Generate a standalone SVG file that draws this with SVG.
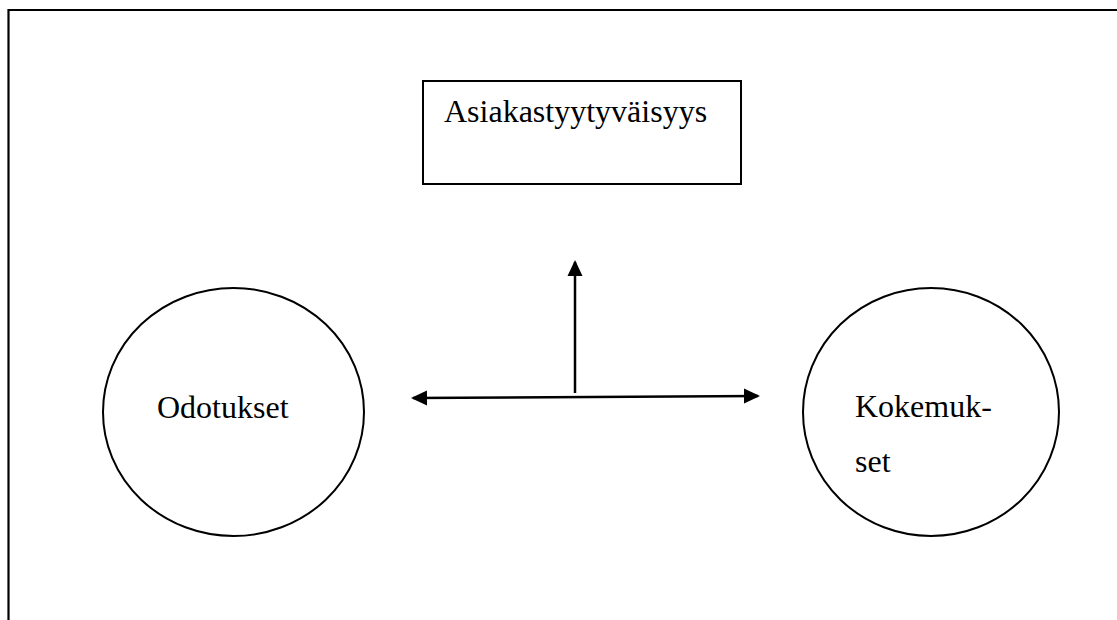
<svg xmlns="http://www.w3.org/2000/svg" width="1117" height="620" viewBox="0 0 1117 620">
<style>
.shape{fill:#fff;stroke:#000;stroke-width:2}
.lbl{font-family:"Liberation Serif","Times New Roman",serif;font-size:32px;fill:#000}
.conn{stroke:#000;stroke-width:2.5;fill:none}
</style>
<defs>
<marker id="ah" viewBox="0 0 16 16" refX="14" refY="8" markerWidth="16" markerHeight="16" markerUnits="userSpaceOnUse" orient="auto-start-reverse">
<path d="M0,0.5 L16,8 L0,15.5 Z" fill="#000"/>
</marker>
</defs>
<rect width="1117" height="620" fill="#fff"/>
<path d="M8.5,620 V10 H1117" fill="none" stroke="#000" stroke-width="2.2"/>
<g id="asiakastyytyvaisyys">
<rect class="shape" x="423" y="81" width="318" height="103"/>
<text class="lbl" x="444" y="122">Asiakastyytyväisyys</text>
</g>
<g id="odotukset">
<ellipse class="shape" cx="233.5" cy="412" rx="130.5" ry="124"/>
<text class="lbl" x="157" y="418">Odotukset</text>
</g>
<g id="kokemukset">
<ellipse class="shape" cx="931" cy="412" rx="128" ry="124"/>
<text class="lbl" x="855" y="417">Kokemuk-</text>
<text class="lbl" x="855" y="472">set</text>
</g>
<g id="connectors">
<line class="conn" x1="413" y1="398" x2="758" y2="396" marker-start="url(#ah)" marker-end="url(#ah)"/>
<line class="conn" x1="575" y1="393" x2="575" y2="262" marker-end="url(#ah)"/>
</g>
</svg>
